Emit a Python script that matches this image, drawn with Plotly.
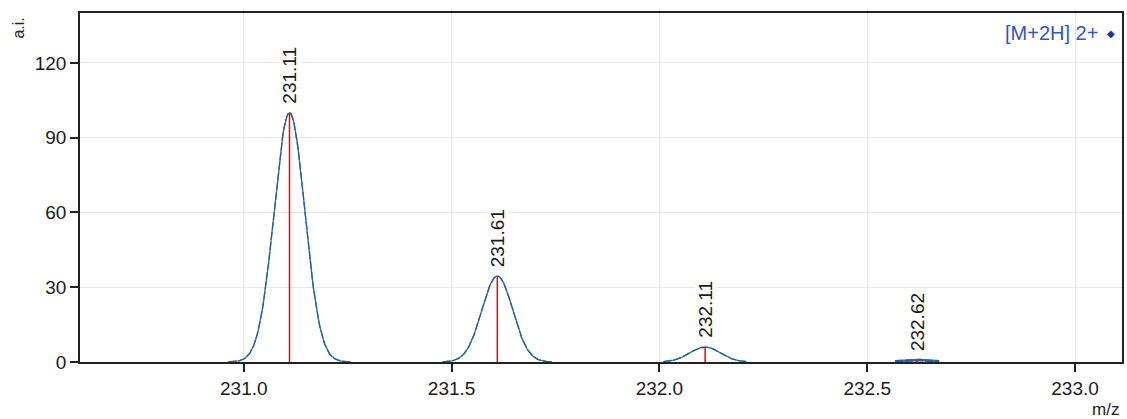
import numpy as np
import plotly.graph_objects as go

# Data
peak_mz = [231.11, 231.61, 232.11, 232.62]
peak_int = [100.0, 34.5, 6.0, 0.8]
peak_labels = ["231.11", "231.61", "232.11", "232.62"]
profile_half_span = [0.147, 0.132, 0.100, 0.053]
sigma = 0.037
x_ticks = [231.0, 231.5, 232.0, 232.5, 233.0]
y_ticks = [0, 30, 60, 90, 120]
series_name = "[M+2H] 2+"

FONT = "Liberation Sans, Arial, sans-serif"

fig = go.Figure()

# Profile curves
for c, h, hs in zip(peak_mz, peak_int, profile_half_span):
    xs = np.linspace(c - hs, c + hs, 120)
    ys = h * np.exp(-0.5 * ((xs - c) / sigma) ** 2)
    w = 1.3 if h > 2 else 2.5
    fig.add_trace(go.Scatter(x=xs, y=ys, mode="lines",
                             line=dict(color="#2e8b3a", width=w),
                             showlegend=False, hoverinfo="skip"))
    fig.add_trace(go.Scatter(x=xs, y=ys, mode="lines",
                             line=dict(color="#2556c4", width=w, dash="8px,2px"),
                             showlegend=False, hoverinfo="skip"))

# Stick lines
for c, h in zip(peak_mz, peak_int):
    fig.add_trace(go.Scatter(x=[c, c], y=[0, h], mode="lines",
                             line=dict(color="#ff0000", width=1.5),
                             showlegend=False, hoverinfo="skip"))

# Peak labels
for c, h, t in zip(peak_mz, peak_int, peak_labels):
    fig.add_annotation(x=c, y=h, text=t, textangle=-90, showarrow=False,
                       xanchor="center", yanchor="bottom", yshift=8,
                       bgcolor="white", borderpad=0,
                       font=dict(family=FONT, size=19, color="#1a1a1a"))

# Legend-like annotation (text then marker, like the reference)
fig.add_annotation(x=(1102 - 80) / 1044, y=(362 - 33) / 349, xref="paper", yref="paper",
                   xanchor="right", yanchor="middle", showarrow=False,
                   text=series_name,
                   font=dict(family=FONT, size=20, color="#3355cc"))
fig.add_annotation(x=(1113 - 80) / 1044, y=(362 - 33) / 349, xref="paper", yref="paper",
                   xanchor="center", yanchor="middle", showarrow=False,
                   text="◆",
                   font=dict(family="DejaVu Sans", size=10, color="#1a3399"))

# Axis titles
fig.add_annotation(x=(18 - 80) / 1044, y=(362 - 16) / 349, xref="paper", yref="paper",
                   xanchor="center", yanchor="top",
                   showarrow=False, text="a.i.", textangle=-90,
                   font=dict(family=FONT, size=16, color="#222222"))
fig.add_annotation(x=(1123 - 80) / 1044, y=(362 - 398) / 349, xref="paper", yref="paper",
                   xanchor="right", yanchor="top",
                   showarrow=False, text="m/z",
                   font=dict(family=FONT, size=17, color="#222222"))

fig.update_layout(
    width=1127, height=419,
    margin=dict(l=80, r=3, t=13, b=57),
    plot_bgcolor="white", paper_bgcolor="white",
    showlegend=False,
    font=dict(family=FONT, size=19, color="#1a1a1a"),
)
fig.update_xaxes(range=[230.606, 233.113], tickvals=x_ticks,
                 ticktext=[f"{v:.1f}" for v in x_ticks],
                 showgrid=True, gridcolor="#e6e6e6", gridwidth=1,
                 ticks="outside", ticklen=8, tickcolor="#222", tickwidth=1.5,
                 showline=True, linecolor="#222", linewidth=1.5, mirror=True,
                 zeroline=False)
fig.update_yaxes(range=[0, 140], tickvals=y_ticks,
                 showgrid=True, gridcolor="#e6e6e6", gridwidth=1,
                 ticks="outside", ticklen=8, tickcolor="#222", tickwidth=1.5,
                 showline=True, linecolor="#222", linewidth=1.5, mirror=True,
                 zeroline=False)

fig.write_html("out.html", config={"displayModeBar": False},
               post_script="document.body.style.margin='0';document.body.style.overflow='hidden';")
